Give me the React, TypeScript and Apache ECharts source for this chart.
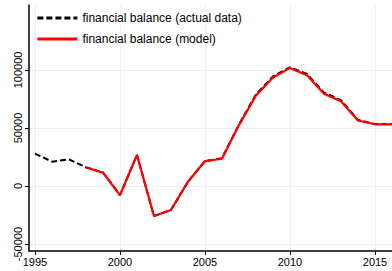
import React, { useEffect, useRef } from "react";
import * as echarts from "echarts";

const actualYears = [1995, 1996, 1997, 1998, 1999, 2000, 2001, 2002, 2003, 2004, 2005, 2006, 2007, 2008, 2009, 2010, 2011, 2012, 2013, 2014, 2015, 2016];
const actualValues = [28000, 21000, 23000, 16100, 11800, -7800, 26700, -25900, -20700, 3700, 21500, 24000, 53000, 79000, 94500, 102300, 96500, 80500, 74000, 57000, 53400, 53400];
const modelYears = [1998, 1999, 2000, 2001, 2002, 2003, 2004, 2005, 2006, 2007, 2008, 2009, 2010, 2011, 2012, 2013, 2014, 2015, 2016];
const modelValues = [16100, 11500, -7800, 26700, -25900, -20700, 3700, 21500, 23500, 52500, 78000, 93500, 101800, 95500, 79500, 73000, 56500, 53200, 53200];
const xTicks = [1995, 2000, 2005, 2010, 2015];
const yTicks = [-50000, 0, 50000, 100000];

export default function App() {
  const ref = useRef<HTMLDivElement>(null);
  useEffect(() => {
    const chart = echarts.init(ref.current!, undefined, { renderer: "svg" });
    const font = "Liberation Sans, Arial, sans-serif";
    chart.setOption({
      animation: false,
      backgroundColor: "#fff",
      textStyle: { fontFamily: font },
      grid: { left: 29, right: 0, top: 5, bottom: 20, containLabel: false },
      legend: {
        left: 36,
        top: 11,
        padding: 0,
        orient: "vertical",
        itemWidth: 40,
        itemHeight: 14,
        itemGap: 7,
        itemStyle: { opacity: 0 },
        lineStyle: { width: 2.8 },
        textStyle: { fontSize: 12, color: "#000", fontFamily: font, lineHeight: 14 },
        data: [
          { name: "financial balance (actual data)" },
          { name: "financial balance (model)" },
        ],
      },
      xAxis: {
        type: "value",
        min: 1994.65,
        max: 2016,
        axisLine: { show: true, onZero: false, lineStyle: { color: "#000", width: 1.5 } },
        axisTick: { show: true, length: 4, lineStyle: { color: "#000" }, customValues: xTicks },
        axisLabel: { color: "#000", fontSize: 11, margin: 5, customValues: xTicks, formatter: (v: number) => String(v) },
        splitLine: { show: true, lineStyle: { color: "#eaf2f3", width: 1 } },
      },
      yAxis: {
        type: "value",
        min: -56000,
        max: 156000,
        axisLine: { show: true, onZero: false, lineStyle: { color: "#000", width: 1.5 } },
        axisTick: { show: true, length: 4, lineStyle: { color: "#000" }, customValues: yTicks },
        axisLabel: { color: "#000", fontSize: 11, rotate: 90, margin: 6, customValues: yTicks, formatter: (v: number) => String(v) },
        splitLine: { show: true, lineStyle: { color: "#eaf2f3", width: 1 } },
      },
      series: [
        {
          name: "financial balance (actual data)",
          type: "line",
          symbol: "none",
          data: actualYears.map((y, i) => [y, actualValues[i]]),
          lineStyle: { color: "#000", width: 2, type: [6, 3] },
          itemStyle: { color: "#000" },
          z: 2,
        },
        {
          name: "financial balance (model)",
          type: "line",
          symbol: "none",
          data: modelYears.map((y, i) => [y, modelValues[i]]),
          lineStyle: { color: "#ff0000", width: 2.2 },
          itemStyle: { color: "#ff0000" },
          z: 3,
        },
      ],
    });
    return () => chart.dispose();
  }, []);
  return <div ref={ref} style={{ position: "fixed", left: 0, top: 0, width: 392, height: 271 }} />;
}
